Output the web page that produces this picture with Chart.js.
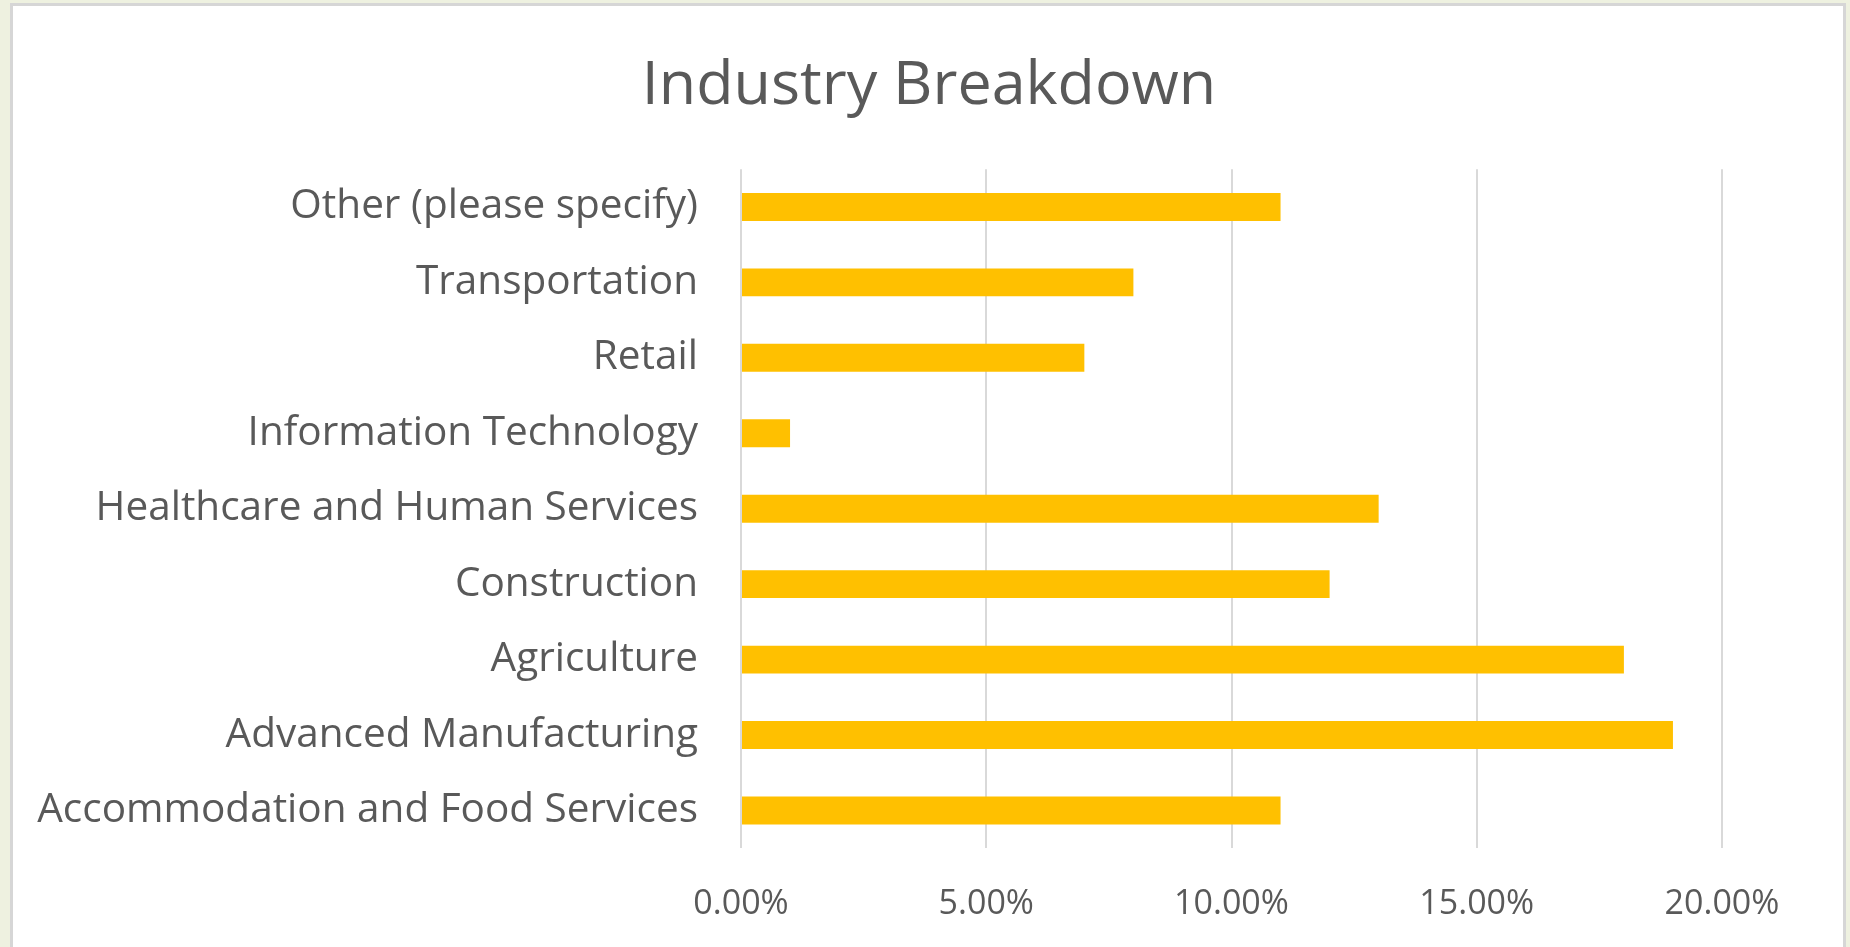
<!DOCTYPE html>
<html>
<head>
<meta charset="utf-8">
<script src="https://cdn.jsdelivr.net/npm/chart.js@4"></script>
<style>
  html, body { margin: 0; padding: 0; background: #eef1e0; overflow: hidden; }
  #frame {
    position: absolute; left: 10px; top: 3px; width: 1830px; height: 980px;
    border: 3px solid #d6d6d6; background: #ffffff;
  }
  #wrap { position: absolute; left: 0; top: 0; width: 1850px; height: 947px; }
</style>
</head>
<body>
<div id="frame"></div>
<div id="wrap"><canvas id="myChart"></canvas></div>
<script>
// categories, bottom to top in the picture
var categories = [
    "Other (please specify)",
    "Transportation",
    "Retail",
    "Information Technology",
    "Healthcare and Human Services",
    "Construction",
    "Agriculture",
    "Advanced Manufacturing",
    "Accommodation and Food Services"
];
var shares = [0.11, 0.08, 0.07, 0.01, 0.13, 0.12, 0.18, 0.19, 0.11];
var xTicks = [0, 0.05, 0.10, 0.15, 0.20];

var textColor = '#595959';
var fontName = "'Open Sans'";

// the title sits a bit right of the canvas centre in the picture
var shiftTitle = {
    id: 'shiftTitle',
    afterLayout: function (chart) {
        if (chart.titleBlock) chart.titleBlock.left += 116;
    }
};

var ctx = document.getElementById('myChart').getContext('2d');
var chart = new Chart(ctx, {
    type: 'bar',
    data: {
        labels: categories,
        datasets: [{
            label: "Share",
            backgroundColor: '#FFC000',
            borderWidth: 0,
            data: shares,
            categoryPercentage: 1,
            barPercentage: 0.37
        }]
    },
    plugins: [shiftTitle],
    options: {
        indexAxis: 'y',
        responsive: true,
        maintainAspectRatio: false,
        animation: false,
        layout: { padding: { left: 20, right: 128, top: 0, bottom: -14 } },
        plugins: {
            legend: { display: false },
            tooltip: { enabled: false },
            title: {
                display: true,
                text: 'Industry Breakdown',
                color: textColor,
                font: { family: fontName, size: 61, weight: 'normal' },
                padding: { top: 50, bottom: 46 }
            }
        },
        scales: {
            x: {
                min: 0,
                max: 0.2,
                afterBuildTicks: function (scale) {
                    scale.ticks = xTicks.map(function (v) { return { value: v }; });
                },
                grid: { color: '#d9d9d9', lineWidth: 2, drawTicks: false },
                border: { display: false },
                ticks: {
                    color: textColor,
                    padding: 36,
                    maxRotation: 0,
                    font: { family: fontName, size: 34 },
                    callback: function (v) { return (v * 100).toFixed(2) + '%'; }
                }
            },
            y: {
                grid: { display: false, drawTicks: false },
                border: { display: false },
                afterFit: function (scale) { scale.width = 721; },
                ticks: {
                    color: textColor,
                    padding: 43,
                    font: { family: fontName, size: 40.5 }
                }
            }
        }
    }
});
</script>
</body>
</html>
